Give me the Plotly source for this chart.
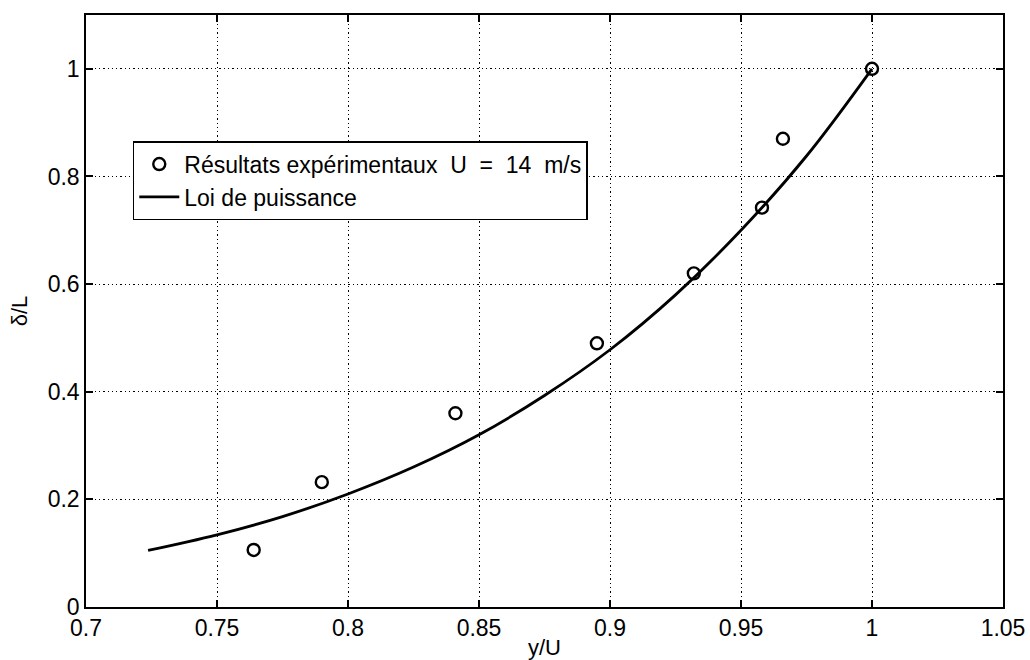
import plotly.graph_objects as go

# Experimental results
exp_x = [0.764, 0.790, 0.841, 0.895, 0.932, 0.958, 0.966, 1.0]
exp_y = [0.106, 0.232, 0.360, 0.490, 0.620, 0.742, 0.870, 1.0]

# Power-law curve, points
law_x = [0.7237, 0.75, 0.775, 0.8, 0.825, 0.85, 0.875, 0.9, 0.925, 0.95, 0.975, 1.0]
law_y = [0.105, 0.134, 0.168, 0.210, 0.260, 0.320, 0.393, 0.478, 0.580, 0.700, 0.838, 1.0]

x_ticks = [0.7, 0.75, 0.8, 0.85, 0.9, 0.95, 1.0, 1.05]
x_labels = ["0.7", "0.75", "0.8", "0.85", "0.9", "0.95", "1", "1.05"]
y_ticks = [0, 0.2, 0.4, 0.6, 0.8, 1.0]
y_labels = ["0", "0.2", "0.4", "0.6", "0.8", "1"]

FONT = "Liberation Sans, Arial, sans-serif"

fig = go.Figure()
fig.add_trace(go.Scatter(
    x=exp_x, y=exp_y, mode="markers",
    name="Résultats expérimentaux  U  =  14  m/s",
    marker=dict(symbol="circle-open", size=12, color="black", line=dict(width=2.4, color="black")),
))
fig.add_trace(go.Scatter(
    x=law_x, y=law_y, mode="lines", line_shape="spline",
    name="Loi de puissance",
    line=dict(color="black", width=2.8),
))

axis_common = dict(
    showline=True, linecolor="black", linewidth=1.5, mirror="ticks",
    ticks="inside", ticklen=7, tickwidth=1.5, tickcolor="black",
    showgrid=True, gridcolor="black", gridwidth=1.3, griddash="1.3px,3px",
    zeroline=False, automargin=False,
    tickfont=dict(family=FONT, size=23, color="black"),
)

fig.update_xaxes(
    range=[0.7, 1.05], tickvals=x_ticks, ticktext=x_labels,
    title=dict(text="y/U", font=dict(family=FONT, size=22, color="black"), standoff=8),
    **axis_common,
)
fig.update_yaxes(
    range=[0, 1.1], tickvals=y_ticks, ticktext=y_labels,
    title=dict(text="δ/L", font=dict(family=FONT, size=22, color="black"), standoff=14),
    **axis_common,
)

fig.update_layout(
    width=1030, height=660,
    margin=dict(l=86, r=27, t=15, b=53),
    paper_bgcolor="white", plot_bgcolor="white",
    font=dict(family=FONT, size=23, color="black"),
    legend=dict(
        x=0.051, y=0.787, xanchor="left", yanchor="top",
        bgcolor="white", bordercolor="black", borderwidth=1.5,
        font=dict(family=FONT, size=23, color="black"),
        tracegroupgap=0, itemwidth=40,
    ),
)

fig.write_html("out.html", config={"displayModeBar": False},
               post_script="document.body.style.margin='0';")
